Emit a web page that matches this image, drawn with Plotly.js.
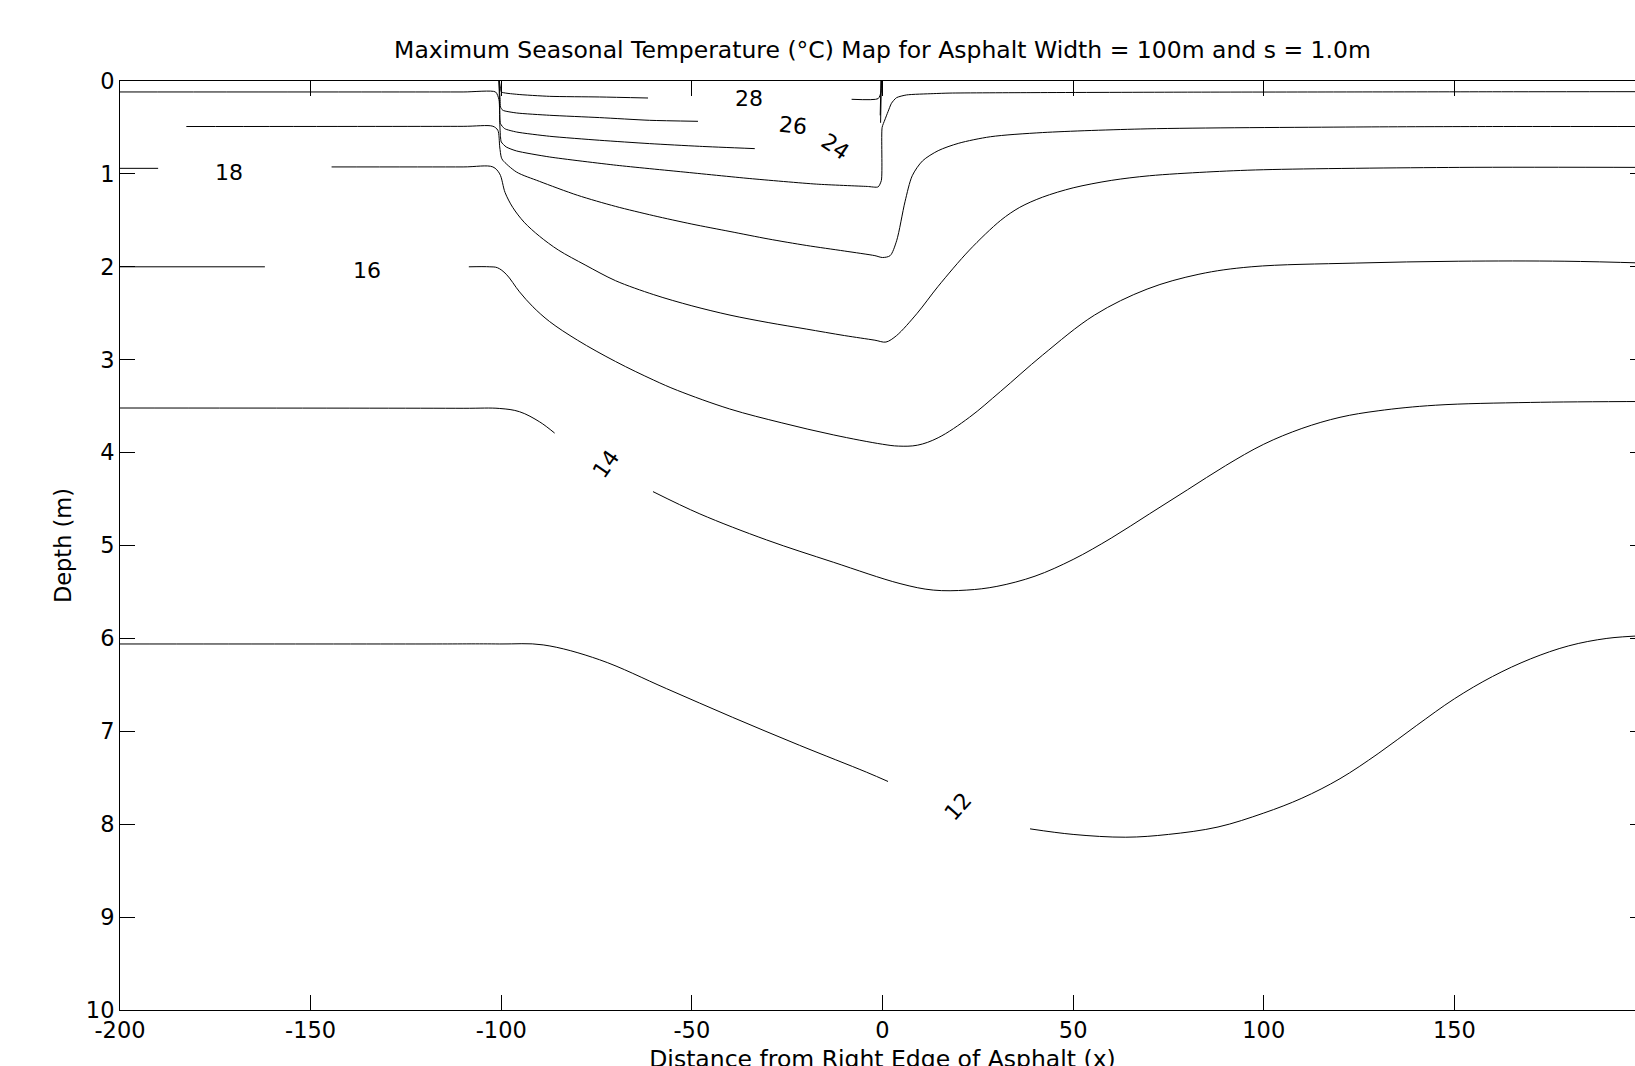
<!DOCTYPE html>
<html>
<head>
<meta charset="utf-8">
<script src="https://cdn.plot.ly/plotly-3.0.1.min.js"></script>
<style>
html,body{margin:0;padding:0;overflow:hidden;background:#fff;}
#chart{width:1660px;height:1080px;}
</style>
</head>
<body>
<div id="chart"></div>
<script>
// ---- data (x = distance from right edge of asphalt, d = depth in m); null = break for labels ----
const xTicks = [-200, -150, -100, -50, 0, 50, 100, 150, 200];
const yTicks = [0, 1, 2, 3, 4, 5, 6, 7, 8, 9, 10];

const x28 = [-100.5, -100.2, -99.98, -96, -87.3, -74.2, -61.5, null, -8.1, -1.15, -0.4, -0.3];
const d28 = [0, 0.08, 0.118, 0.143, 0.165, 0.172, 0.183, null, 0.197, 0.19, 0.12, 0];

const x26 = [-100.6, -100.3, -100.2, -99.6, -96, -87.3, -74.2, -61.1, -48.4, null, -0.6, -0.4];
const d26 = [0, 0.2, 0.28, 0.315, 0.344, 0.369, 0.394, 0.423, 0.434, null, 0.37, 0];

const x24 = [-100.6, -100.4, -100.2, -99.1, -96, -87.3, -74.2, -61.1, -48, -33.5, null, -0.5, -0.3];
const d24 = [0, 0.3, 0.459, 0.513, 0.549, 0.595, 0.638, 0.674, 0.703, 0.728, null, 0.45, 0];

const x22 = [-200, -110, -101.5, -100.6, -100.4, -100.2, -100, -98.7, -96, -87.3, -69.8, -52.3, -34.8, -17.3, -4, -1.15, -0.3, -0.1, 0.6, 1.45, 2.35, 3.66, 6.3, 13.3, 17.7, 40, 80, 120, 160, 200];
const d22 = [0.118, 0.118, 0.118, 0.2, 0.45, 0.6, 0.656, 0.71, 0.753, 0.818, 0.907, 0.979, 1.05, 1.11, 1.135, 1.14, 1.07, 0.5, 0.42, 0.33, 0.24, 0.18, 0.15, 0.136, 0.13, 0.125, 0.12, 0.118, 0.116, 0.115];

const x20 = [-182.6, -110, -102.2, -100.9, -100.4, -100, -99.6, -96, -90, -80, -70, -60, -50, -40, -30, -20, -10, -2, 0, 2, 3.7, 5.9, 7.8, 10.5, 14.6, 20, 28.3, 42, 69.4, 124, 160, 200];
const d20 = [0.49, 0.488, 0.487, 0.53, 0.71, 0.82, 0.853, 0.98, 1.08, 1.23, 1.35, 1.45, 1.54, 1.62, 1.70, 1.77, 1.83, 1.88, 1.90, 1.88, 1.72, 1.30, 1.02, 0.86, 0.75, 0.67, 0.60, 0.555, 0.515, 0.495, 0.49, 0.49];

const x18 = [-200, -190, null, -144.5, -110, -102.2, -100.4, -99, -97, -94, -90, -85, -78, -70, -60, -50, -40, -30, -20, -10, -2, 0.9, 3.7, 9.1, 14.6, 22.8, 31, 36, 42, 50, 60, 70, 85, 100, 151.4, 200];
const d18 = [0.94, 0.94, null, 0.925, 0.925, 0.925, 1.0, 1.2, 1.36, 1.52, 1.67, 1.82, 1.98, 2.15, 2.30, 2.42, 2.52, 2.60, 2.67, 2.74, 2.79, 2.81, 2.74, 2.50, 2.21, 1.82, 1.50, 1.36, 1.25, 1.15, 1.07, 1.02, 0.98, 0.955, 0.93, 0.93];

const x16 = [-200, -162, null, -108.5, -103, -101, -98.7, -95.2, -91.7, -87.3, -80, -70, -60, -53.8, -40.1, -26.4, -12.8, 0, 4.2, 9.2, 14.6, 22.8, 31, 42, 55.6, 69.4, 83, 96.7, 124, 151, 179, 200];
const d16 = [2.0, 2.0, null, 2.0, 2.0, 2.01, 2.08, 2.27, 2.43, 2.59, 2.79, 3.02, 3.22, 3.33, 3.53, 3.68, 3.81, 3.91, 3.93, 3.92, 3.84, 3.62, 3.34, 2.95, 2.52, 2.24, 2.08, 2.00, 1.96, 1.94, 1.94, 1.96];

const x14 = [-200, -110, -100.4, -95.2, -89.9, -86, null, -60.2, -47.9, -30.4, -12.9, 4.6, 13.3, 22.1, 30, 40, 50, 60, 70, 80, 90, 100, 110, 120, 130, 145, 170, 200];
const d14 = [3.52, 3.523, 3.525, 3.56, 3.67, 3.79, null, 4.42, 4.66, 4.94, 5.18, 5.41, 5.48, 5.48, 5.44, 5.33, 5.15, 4.92, 4.66, 4.40, 4.14, 3.91, 3.74, 3.62, 3.55, 3.49, 3.46, 3.45];

const x12 = [-200, -120, -100.4, -89, -74.2, -56.7, -39.3, -21.8, -4.2, 1.45, null, 38.7, 50, 63.8, 75, 88, 100, 110, 120, 130, 140, 150, 160, 170, 180, 190, 200];
const d12 = [6.06, 6.06, 6.06, 6.07, 6.23, 6.54, 6.85, 7.15, 7.44, 7.54, null, 8.05, 8.11, 8.14, 8.11, 8.03, 7.88, 7.72, 7.51, 7.24, 6.94, 6.65, 6.41, 6.22, 6.08, 6.00, 5.97];

// contour labels
const labelText = ['28', '26', '24', '18', '16', '14', '12'];
const labelX = [-35, -23.5, -12.5, -171.3, -135.1, -72.4, 19.8];
const labelD = [0.19, 0.477, 0.71, 0.98, 2.04, 4.12, 7.81];
const labelAngle = [0, 6, 34, 0, 0, -55, -48];

// ---- drawing ----
const FONT = 'DejaVu Sans, Arial, sans-serif';
const series = [[x28, d28, 0.6], [x26, d26, 0.6], [x24, d24, 0.6], [x22, d22, 0.6], [x20, d20, 0.8], [x18, d18, 0.9], [x16, d16, 1], [x14, d14, 1], [x12, d12, 1]];
const traces = series.map(s => ({
  type: 'scatter', mode: 'lines', x: s[0], y: s[1],
  line: {color: '#000', width: 1, shape: 'spline', smoothing: s[2]}, connectgaps: false, hoverinfo: 'skip', showlegend: false
}));

const annotations = labelText.map((t, i) => ({
  x: labelX[i], y: labelD[i], xref: 'x', yref: 'y', text: t, showarrow: false,
  textangle: labelAngle[i], font: {family: FONT, size: 22, color: '#000'}
}));

const axisCommon = {
  showline: true, linecolor: '#000', linewidth: 1, mirror: 'ticks',
  ticks: 'inside', ticklen: 15, tickwidth: 1, tickcolor: '#000',
  showgrid: false, zeroline: false,
  tickfont: {family: FONT, size: 22.5, color: '#000'}
};

const layout = {
  width: 1660, height: 1080,
  margin: {l: 120, r: 15, t: 81, b: 70},
  paper_bgcolor: '#fff', plot_bgcolor: '#fff',
  title: {text: 'Maximum Seasonal Temperature (°C) Map for Asphalt Width = 100m and s = 1.0m',
          font: {family: FONT, size: 23.5, color: '#000'}, x: 0.5, xref: 'paper', y: 1 - 50 / 1080, yanchor: 'middle'},
  xaxis: Object.assign({}, axisCommon, {
    range: [-200, 200], tickmode: 'array', tickvals: xTicks, ticktext: xTicks.map(String),
    title: {text: 'Distance from Right Edge of Asphalt (x)', font: {family: FONT, size: 23.5, color: '#000'}, standoff: 8}
  }),
  yaxis: Object.assign({}, axisCommon, {
    range: [10, 0], tickmode: 'array', tickvals: yTicks, ticktext: yTicks.map(String),
    title: {text: 'Depth (m)', font: {family: FONT, size: 22.5, color: '#000'}, standoff: 7}
  }),
  annotations: annotations
};

Plotly.newPlot('chart', traces, layout, {displayModeBar: false, staticPlot: true});
</script>
</body>
</html>
